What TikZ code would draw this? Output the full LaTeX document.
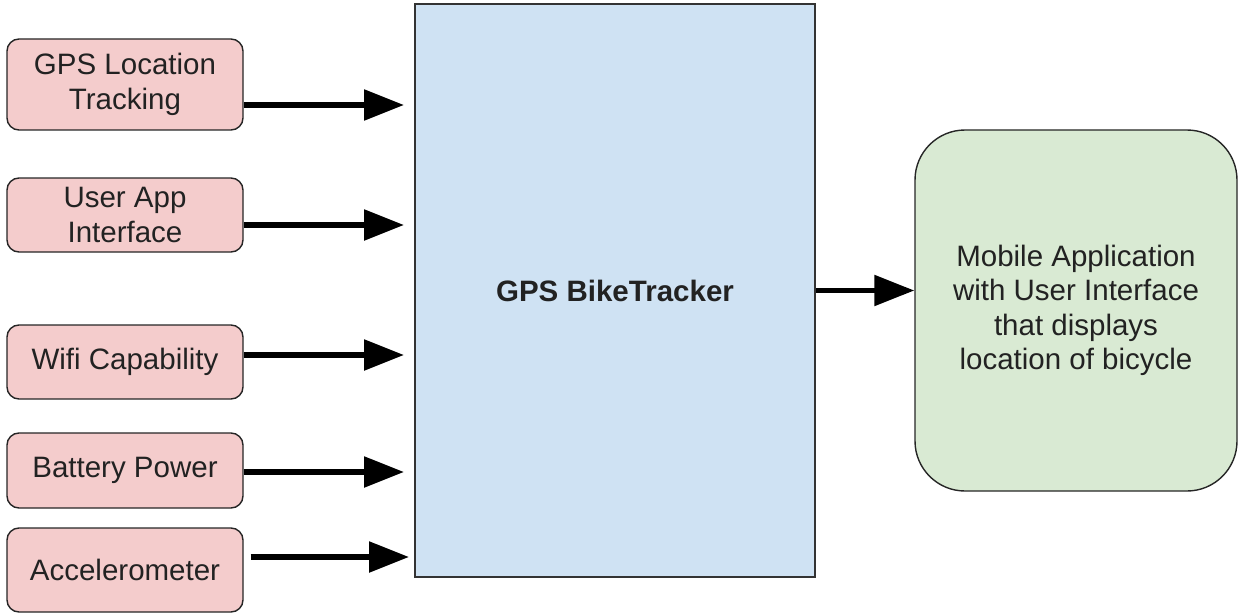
\documentclass[tikz,border=0pt]{standalone}
\usepackage{fontspec}
\setmainfont{Liberation Sans}
\usetikzlibrary{arrows.meta}

\definecolor{inpink}{HTML}{F4CCCC}
\definecolor{coreblue}{HTML}{CFE2F3}
\definecolor{appgreen}{HTML}{D9EAD3}
\definecolor{inktext}{HTML}{222222}

\tikzset{
  feature/.style={draw=black!85, line width=1.4pt, fill=inpink, rounded corners=12pt,
    minimum width=236pt, inner sep=0pt, align=center, text=inktext,
    font=\fontsize{29.5}{34.5}\selectfont},
  corebox/.style={draw=black!80, line width=2pt, fill=coreblue,
    minimum width=400pt, minimum height=573pt, inner sep=0pt, text=inktext,
    font=\fontsize{29.5}{34.5}\selectfont\bfseries},
  appbox/.style={draw=black!85, line width=1.4pt, fill=appgreen, rounded corners=50pt,
    minimum width=322pt, minimum height=361pt, inner sep=0pt, align=center, text=inktext,
    font=\fontsize{29.5}{34.5}\selectfont},
  feed/.style={line width=5.5pt, -{Triangle[length=40pt,width=30pt]}}
}

\begin{document}
\begin{tikzpicture}[x=1pt, y=-1pt]
  \useasboundingbox (0,0) rectangle (1239,615);

  % input features
  \node[feature, minimum height=91pt] (gps)   at (125,84.5)  {GPS Location\\Tracking};
  \node[feature, minimum height=74pt] (ui)    at (125,215)   {User App\\Interface};
  \node[feature, minimum height=74pt] (wifi)  at (125,362)   {Wifi Capability};
  \node[feature, minimum height=75pt] (batt)  at (125,470.5) {Battery Power};
  \node[feature, minimum height=84pt] (accel) at (125,570)   {Accelerometer};

  % tracker and app
  \node[corebox] (core) at (615,290.5) {GPS BikeTracker};
  \node[appbox]  (app)  at (1076,310.5) {Mobile Application\\with User Interface\\that displays\\location of bicycle};

  % connectors (yshift is on the page: negative moves down)
  \draw[feed, shorten >=10pt] ([yshift=-20.5pt]gps.east) -- ([yshift=-20.5pt]gps.east -| core.west);
  \draw[feed, shorten >=10pt] ([yshift=-10pt]ui.east)   -- ([yshift=-10pt]ui.east -| core.west);
  \draw[feed, shorten >=10pt] ([yshift=7pt]wifi.east)   -- ([yshift=7pt]wifi.east -| core.west);
  \draw[feed, shorten >=10pt] ([yshift=-1.5pt]batt.east) -- ([yshift=-1.5pt]batt.east -| core.west);
  \draw[feed, shorten <=7pt, shorten >=5pt] ([yshift=13pt]accel.east) -- ([yshift=13pt]accel.east -| core.west);
  \draw[feed] (core.east) -- (core.east -| app.west);
\end{tikzpicture}
\end{document}
